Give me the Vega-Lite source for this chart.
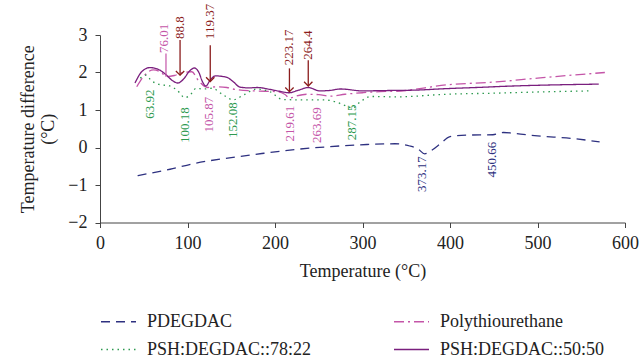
{
  "$schema": "https://vega.github.io/schema/vega-lite/v6.json",
  "width": 525,
  "height": 187.5,
  "autosize": "none",
  "padding": {"left": 100, "top": 35, "right": 16, "bottom": 135.5},
  "background": "white",
  "config": {
    "font": "Liberation Serif",
    "view": {"stroke": null},
    "axis": {
      "labelFont": "Liberation Serif",
      "titleFont": "Liberation Serif",
      "labelFontSize": 18,
      "titleFontSize": 18,
      "titleFontWeight": "normal",
      "labelColor": "#222",
      "titleColor": "#222",
      "domainColor": "#444",
      "tickColor": "#444",
      "tickSize": 5,
      "grid": false,
      "labelOverlap": false
    }
  },
  "datasets": {
    "curves": [
      {"series": "PDEGDAC", "t": 43, "v": -0.75},
      {"series": "PDEGDAC", "t": 80, "v": -0.58},
      {"series": "PDEGDAC", "t": 109, "v": -0.42},
      {"series": "PDEGDAC", "t": 150, "v": -0.27},
      {"series": "PDEGDAC", "t": 185, "v": -0.16},
      {"series": "PDEGDAC", "t": 229, "v": -0.04},
      {"series": "PDEGDAC", "t": 261, "v": 0.02},
      {"series": "PDEGDAC", "t": 305, "v": 0.08},
      {"series": "PDEGDAC", "t": 337, "v": 0.1},
      {"series": "PDEGDAC", "t": 354, "v": 0.04},
      {"series": "PDEGDAC", "t": 364, "v": -0.05},
      {"series": "PDEGDAC", "t": 371, "v": -0.17},
      {"series": "PDEGDAC", "t": 380, "v": -0.06},
      {"series": "PDEGDAC", "t": 389, "v": 0.1},
      {"series": "PDEGDAC", "t": 400, "v": 0.29},
      {"series": "PDEGDAC", "t": 420, "v": 0.33},
      {"series": "PDEGDAC", "t": 449, "v": 0.34},
      {"series": "PDEGDAC", "t": 461, "v": 0.4},
      {"series": "PDEGDAC", "t": 472, "v": 0.38},
      {"series": "PDEGDAC", "t": 500, "v": 0.31},
      {"series": "PDEGDAC", "t": 540, "v": 0.24},
      {"series": "PDEGDAC", "t": 571, "v": 0.15},

      {"series": "Polythiourethane", "t": 42, "v": 1.62},
      {"series": "Polythiourethane", "t": 51, "v": 1.93},
      {"series": "Polythiourethane", "t": 61, "v": 2.07},
      {"series": "Polythiourethane", "t": 70, "v": 2.0},
      {"series": "Polythiourethane", "t": 76, "v": 1.89},
      {"series": "Polythiourethane", "t": 85, "v": 1.92},
      {"series": "Polythiourethane", "t": 95, "v": 2.0},
      {"series": "Polythiourethane", "t": 105, "v": 2.02},
      {"series": "Polythiourethane", "t": 112, "v": 1.8},
      {"series": "Polythiourethane", "t": 123, "v": 1.6},
      {"series": "Polythiourethane", "t": 133, "v": 1.62},
      {"series": "Polythiourethane", "t": 145, "v": 1.6},
      {"series": "Polythiourethane", "t": 152, "v": 1.56},
      {"series": "Polythiourethane", "t": 175, "v": 1.51},
      {"series": "Polythiourethane", "t": 202, "v": 1.49},
      {"series": "Polythiourethane", "t": 211, "v": 1.42},
      {"series": "Polythiourethane", "t": 217, "v": 1.32},
      {"series": "Polythiourethane", "t": 224, "v": 1.37},
      {"series": "Polythiourethane", "t": 236, "v": 1.42},
      {"series": "Polythiourethane", "t": 250, "v": 1.41},
      {"series": "Polythiourethane", "t": 263, "v": 1.37},
      {"series": "Polythiourethane", "t": 280, "v": 1.42},
      {"series": "Polythiourethane", "t": 300, "v": 1.46},
      {"series": "Polythiourethane", "t": 320, "v": 1.49},
      {"series": "Polythiourethane", "t": 339, "v": 1.5},
      {"series": "Polythiourethane", "t": 396, "v": 1.67},
      {"series": "Polythiourethane", "t": 453, "v": 1.75},
      {"series": "Polythiourethane", "t": 500, "v": 1.85},
      {"series": "Polythiourethane", "t": 540, "v": 1.93},
      {"series": "Polythiourethane", "t": 577, "v": 2.0},

      {"series": "PSH:DEGDAC::78:22", "t": 46, "v": 1.85},
      {"series": "PSH:DEGDAC::78:22", "t": 53, "v": 1.93},
      {"series": "PSH:DEGDAC::78:22", "t": 58, "v": 1.8},
      {"series": "PSH:DEGDAC::78:22", "t": 68, "v": 1.68},
      {"series": "PSH:DEGDAC::78:22", "t": 80, "v": 1.64},
      {"series": "PSH:DEGDAC::78:22", "t": 88, "v": 1.53},
      {"series": "PSH:DEGDAC::78:22", "t": 97, "v": 1.33},
      {"series": "PSH:DEGDAC::78:22", "t": 103, "v": 1.4},
      {"series": "PSH:DEGDAC::78:22", "t": 110, "v": 1.58},
      {"series": "PSH:DEGDAC::78:22", "t": 118, "v": 1.56},
      {"series": "PSH:DEGDAC::78:22", "t": 128, "v": 1.58},
      {"series": "PSH:DEGDAC::78:22", "t": 141, "v": 1.4},
      {"series": "PSH:DEGDAC::78:22", "t": 152, "v": 1.27},
      {"series": "PSH:DEGDAC::78:22", "t": 164, "v": 1.4},
      {"series": "PSH:DEGDAC::78:22", "t": 179, "v": 1.56},
      {"series": "PSH:DEGDAC::78:22", "t": 194, "v": 1.49},
      {"series": "PSH:DEGDAC::78:22", "t": 209, "v": 1.28},
      {"series": "PSH:DEGDAC::78:22", "t": 232, "v": 1.27},
      {"series": "PSH:DEGDAC::78:22", "t": 255, "v": 1.27},
      {"series": "PSH:DEGDAC::78:22", "t": 269, "v": 1.22},
      {"series": "PSH:DEGDAC::78:22", "t": 282, "v": 1.1},
      {"series": "PSH:DEGDAC::78:22", "t": 289, "v": 1.05},
      {"series": "PSH:DEGDAC::78:22", "t": 297, "v": 1.21},
      {"series": "PSH:DEGDAC::78:22", "t": 310, "v": 1.36},
      {"series": "PSH:DEGDAC::78:22", "t": 339, "v": 1.35},
      {"series": "PSH:DEGDAC::78:22", "t": 396, "v": 1.42},
      {"series": "PSH:DEGDAC::78:22", "t": 453, "v": 1.45},
      {"series": "PSH:DEGDAC::78:22", "t": 500, "v": 1.48},
      {"series": "PSH:DEGDAC::78:22", "t": 562, "v": 1.51},

      {"series": "PSH:DEGDAC::50:50", "t": 40, "v": 1.72},
      {"series": "PSH:DEGDAC::50:50", "t": 48, "v": 2.03},
      {"series": "PSH:DEGDAC::50:50", "t": 57, "v": 2.13},
      {"series": "PSH:DEGDAC::50:50", "t": 66, "v": 2.09},
      {"series": "PSH:DEGDAC::50:50", "t": 75, "v": 1.95},
      {"series": "PSH:DEGDAC::50:50", "t": 83, "v": 1.78},
      {"series": "PSH:DEGDAC::50:50", "t": 89, "v": 1.72},
      {"series": "PSH:DEGDAC::50:50", "t": 96, "v": 1.84},
      {"series": "PSH:DEGDAC::50:50", "t": 102, "v": 2.03},
      {"series": "PSH:DEGDAC::50:50", "t": 108, "v": 2.12},
      {"series": "PSH:DEGDAC::50:50", "t": 113, "v": 2.0},
      {"series": "PSH:DEGDAC::50:50", "t": 117, "v": 1.76},
      {"series": "PSH:DEGDAC::50:50", "t": 121, "v": 1.64},
      {"series": "PSH:DEGDAC::50:50", "t": 126, "v": 1.8},
      {"series": "PSH:DEGDAC::50:50", "t": 132, "v": 1.91},
      {"series": "PSH:DEGDAC::50:50", "t": 145, "v": 1.87},
      {"series": "PSH:DEGDAC::50:50", "t": 152, "v": 1.76},
      {"series": "PSH:DEGDAC::50:50", "t": 160, "v": 1.61},
      {"series": "PSH:DEGDAC::50:50", "t": 170, "v": 1.59},
      {"series": "PSH:DEGDAC::50:50", "t": 180, "v": 1.6},
      {"series": "PSH:DEGDAC::50:50", "t": 194, "v": 1.55},
      {"series": "PSH:DEGDAC::50:50", "t": 205, "v": 1.5},
      {"series": "PSH:DEGDAC::50:50", "t": 216, "v": 1.46},
      {"series": "PSH:DEGDAC::50:50", "t": 227, "v": 1.53},
      {"series": "PSH:DEGDAC::50:50", "t": 238, "v": 1.6},
      {"series": "PSH:DEGDAC::50:50", "t": 251, "v": 1.51},
      {"series": "PSH:DEGDAC::50:50", "t": 262, "v": 1.52},
      {"series": "PSH:DEGDAC::50:50", "t": 275, "v": 1.56},
      {"series": "PSH:DEGDAC::50:50", "t": 300, "v": 1.51},
      {"series": "PSH:DEGDAC::50:50", "t": 330, "v": 1.52},
      {"series": "PSH:DEGDAC::50:50", "t": 360, "v": 1.53},
      {"series": "PSH:DEGDAC::50:50", "t": 396, "v": 1.57},
      {"series": "PSH:DEGDAC::50:50", "t": 430, "v": 1.6},
      {"series": "PSH:DEGDAC::50:50", "t": 472, "v": 1.64},
      {"series": "PSH:DEGDAC::50:50", "t": 520, "v": 1.67},
      {"series": "PSH:DEGDAC::50:50", "t": 570, "v": 1.69}
    ],
    "labels": [
      {"label": "63.92", "t": 57, "v": 1.16, "series": "PSH:DEGDAC::78:22"},
      {"label": "76.01", "t": 73, "v": 2.91, "series": "Polythiourethane"},
      {"label": "100.18", "t": 97, "v": 0.6, "series": "PSH:DEGDAC::78:22"},
      {"label": "105.87", "t": 124, "v": 0.88, "series": "Polythiourethane"},
      {"label": "152.08", "t": 152, "v": 0.73, "series": "PSH:DEGDAC::78:22"},
      {"label": "219.61", "t": 217, "v": 0.64, "series": "Polythiourethane"},
      {"label": "263.69", "t": 248, "v": 0.6, "series": "Polythiourethane"},
      {"label": "287.15", "t": 288, "v": 0.67, "series": "PSH:DEGDAC::78:22"},
      {"label": "373.17", "t": 367.6, "v": -0.71, "series": "PDEGDAC"},
      {"label": "450.66", "t": 447.6, "v": -0.32, "series": "PDEGDAC"}
    ],
    "arrows": [
      {"label": "88.8", "t": 91.5, "lv": 3.2, "v1": 2.87, "v2": 1.93},
      {"label": "119.37", "t": 126, "lv": 3.36, "v1": 2.73, "v2": 1.76},
      {"label": "223.17", "t": 216.5, "lv": 2.67, "v1": 2.11, "v2": 1.49},
      {"label": "264.4", "t": 238, "lv": 2.73, "v1": 2.33, "v2": 1.64}
    ],
    "marker": [
      {"t": 75.4, "v1": 2.51, "v2": 1.89}
    ]
  },
  "encoding": {
    "x": {
      "type": "quantitative",
      "scale": {"domain": [0, 600], "nice": false},
      "axis": {"values": [0, 100, 200, 300, 400, 500, 600], "title": "Temperature (°C)", "labelPadding": 7, "titlePadding": 10, "labelFlush": false, "labelOverlap": false}
    },
    "y": {
      "type": "quantitative",
      "scale": {"domain": [-2, 3], "nice": false},
      "axis": {"values": [-2, -1, 0, 1, 2, 3], "title": ["Temperature difference", "(°C)"], "labelPadding": 8, "titlePadding": 10, "labelFlush": false, "labelOverlap": false}
    }
  },
  "layer": [
    {
      "data": {"name": "curves"},
      "mark": {"type": "line", "interpolate": "monotone", "strokeWidth": 1.3},
      "encoding": {
        "x": {"field": "t"},
        "y": {"field": "v"},
        "color": {
          "field": "series", "type": "nominal",
          "scale": {
            "domain": ["PDEGDAC", "PSH:DEGDAC::78:22", "Polythiourethane", "PSH:DEGDAC::50:50"],
            "range": ["#2E3180", "#2E9A50", "#C455A8", "#7A1F7E"]
          },
          "legend": {
            "title": null, "orient": "none", "legendX": 0, "legendY": 268,
            "columns": 2, "columnPadding": 79, "rowPadding": -11,
            "symbolType": "stroke", "symbolSize": 1225, "symbolStrokeWidth": 1.3,
            "labelFontSize": 18, "labelFont": "Liberation Serif", "labelColor": "#222", "labelOffset": 10, "labelLimit": 400
          }
        },
        "strokeDash": {
          "field": "series", "type": "nominal",
          "scale": {
            "domain": ["PDEGDAC", "PSH:DEGDAC::78:22", "Polythiourethane", "PSH:DEGDAC::50:50"],
            "range": [[9, 6], [1.5, 4], [10, 4, 2, 4], [1, 0]]
          },
          "legend": {
            "title": null, "orient": "none", "legendX": 0, "legendY": 268,
            "columns": 2, "columnPadding": 79, "rowPadding": -11,
            "symbolType": "stroke", "symbolSize": 1225, "symbolStrokeWidth": 1.3,
            "labelFontSize": 18, "labelFont": "Liberation Serif", "labelColor": "#222", "labelOffset": 10, "labelLimit": 400
          }
        }
      }
    },
    {
      "data": {"name": "labels"},
      "mark": {"type": "text", "angle": 270, "align": "center", "baseline": "middle", "fontSize": 13, "font": "Liberation Serif"},
      "encoding": {
        "x": {"field": "t"},
        "y": {"field": "v"},
        "text": {"field": "label"},
        "color": {"field": "series", "type": "nominal", "legend": null}
      }
    },
    {
      "data": {"name": "arrows"},
      "mark": {"type": "rule", "color": "#8B1C1C", "strokeWidth": 1.3},
      "encoding": {
        "x": {"field": "t"},
        "y": {"field": "v1"},
        "y2": {"field": "v2"}
      }
    },
    {
      "data": {"name": "arrows"},
      "mark": {"type": "point", "shape": "M-1,-1L0,0L1,-1", "filled": false, "size": 70, "color": "#8B1C1C", "strokeWidth": 1.3, "opacity": 1},
      "encoding": {
        "x": {"field": "t"},
        "y": {"field": "v2"}
      }
    },
    {
      "data": {"name": "arrows"},
      "mark": {"type": "text", "angle": 270, "align": "center", "baseline": "middle", "fontSize": 13, "font": "Liberation Serif", "color": "#8B1C1C"},
      "encoding": {
        "x": {"field": "t"},
        "y": {"field": "lv"},
        "text": {"field": "label"}
      }
    },
    {
      "data": {"name": "marker"},
      "mark": {"type": "rule", "color": "#C455A8", "strokeWidth": 1.2},
      "encoding": {
        "x": {"field": "t"},
        "y": {"field": "v1"},
        "y2": {"field": "v2"}
      }
    }
  ]
}
